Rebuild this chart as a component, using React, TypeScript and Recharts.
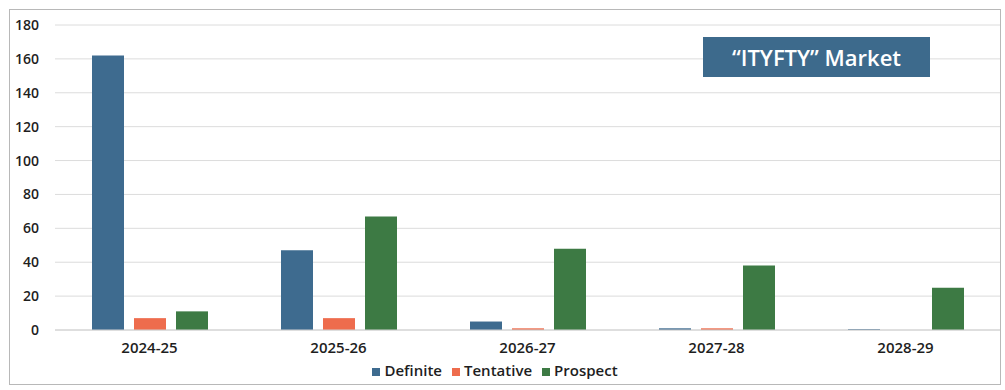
import React from 'react'
import {
  BarChart,
  Bar,
  XAxis,
  YAxis,
  CartesianGrid,
  Legend,
} from 'recharts'

const years = ['2024-25', '2025-26', '2026-27', '2027-28', '2028-29']
const definite = [162, 47, 5, 1, 0.5]
const tentative = [7, 7, 1, 1, 0]
const prospect = [11, 67, 48, 38, 25]
const yTicks = [0, 20, 40, 60, 80, 100, 120, 140, 160, 180]
const seriesOrder = ['Definite', 'Tentative', 'Prospect']

const data = years.map((year, i) => ({
  year,
  Definite: definite[i],
  Tentative: tentative[i],
  Prospect: prospect[i],
}))

const font = '"Open Sans", "Noto Sans", sans-serif'

export default function App() {
  return (
    <div style={{ position: 'relative', width: 1005, height: 390, background: '#fff', fontFamily: font }}>
      <style>{'body{margin:0}'}</style>
      <div
        style={{
          position: 'absolute',
          left: 9,
          top: 9,
          width: 992,
          height: 376,
          border: '1px solid #b8b8b8',
          boxSizing: 'border-box',
        }}
      />
      <BarChart
        width={1005}
        height={390}
        data={data}
        margin={{ top: 25, right: 5, bottom: 10, left: 0 }}
        barSize={32}
        barGap={10}
      >
        <CartesianGrid vertical={false} stroke="#dcdcdc" />
        <XAxis
          dataKey="year"
          axisLine={{ stroke: '#d0d0d0' }}
          tickLine={false}
          tickMargin={6}
          tick={{ fontSize: 15, fontWeight: 600, fill: '#1e1e1e', fontFamily: font }}
        />
        <YAxis
          width={55}
          domain={[0, 180]}
          ticks={yTicks}
          axisLine={false}
          tickLine={false}
          tickMargin={10}
          tick={{ fontSize: 14, fontWeight: 600, fill: '#1e1e1e', fontFamily: font }}
        />
        <Legend
          iconType="square"
          iconSize={8}
          itemSorter={(item) => seriesOrder.indexOf(String(item.value))}
          wrapperStyle={{ fontSize: 15, fontWeight: 600, fontFamily: font }}
          formatter={(value) => <span style={{ color: '#1e1e1e' }}>{value}</span>}
        />
        <Bar dataKey="Definite" fill="#3e6b8f" isAnimationActive={false} />
        <Bar dataKey="Tentative" fill="#ee6c4d" isAnimationActive={false} />
        <Bar dataKey="Prospect" fill="#3d7a44" isAnimationActive={false} />
      </BarChart>
      <div
        style={{
          position: 'absolute',
          left: 703,
          top: 37,
          width: 227,
          height: 40,
          background: '#3d6a8c',
          color: '#fff',
          fontSize: 22,
          fontWeight: 600,
          display: 'flex',
          alignItems: 'center',
          justifyContent: 'center',
        }}
      >
        “ITYFTY” Market
      </div>
    </div>
  )
}
